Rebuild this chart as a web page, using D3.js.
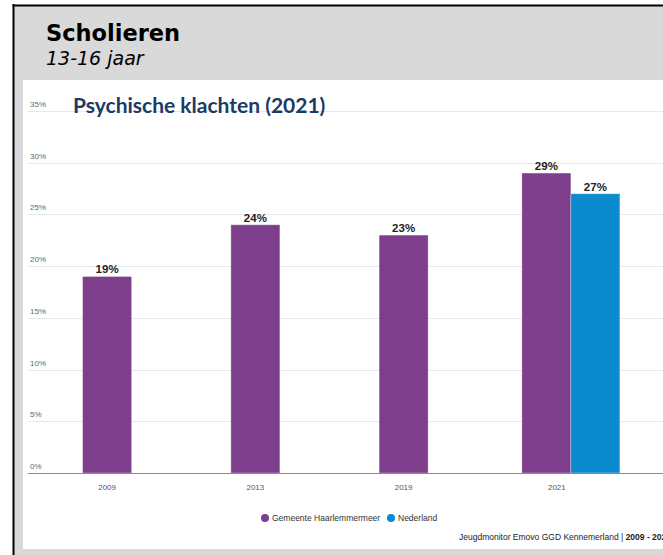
<!DOCTYPE html>
<html>
<head>
<meta charset="utf-8">
<script src="https://cdn.jsdelivr.net/npm/d3@7"></script>
<style>
  html, body { margin: 0; padding: 0; background: #fff; overflow: hidden; }
  svg { display: block; }
  .narrow { font-family: "Liberation Sans Narrow", "Arial Narrow", "Liberation Sans", sans-serif; font-stretch: condensed; }
</style>
</head>
<body>
<svg id="chart" width="663" height="555"></svg>
<script>
  "use strict";

  // data
  const years = ["2009", "2013", "2019", "2021"];
  const haarlemmermeer = [19, 24, 23, 29];
  const nederland = [null, null, null, 27];
  const seriesNames = ["Gemeente Haarlemmermeer", "Nederland"];
  const seriesColors = ["#7d3f8c", "#0a8acf"];
  const yTicks = [0, 5, 10, 15, 20, 25, 30, 35];

  const svg = d3.select("#chart");
  const W = 663, H = 555;

  // slide frame
  svg.append("rect").attr("x", 13).attr("y", 5).attr("width", W).attr("height", H)
    .attr("fill", "#d9d9d9");
  svg.append("line").attr("x1", 13.5).attr("x2", 13.5).attr("y1", 4).attr("y2", H)
    .attr("stroke", "#000").attr("stroke-width", 2);
  svg.append("line").attr("x1", 12.5).attr("x2", W).attr("y1", 5.5).attr("y2", 5.5)
    .attr("stroke", "#000").attr("stroke-width", 2);
  svg.append("rect").attr("x", 23).attr("y", 80).attr("width", W - 23).attr("height", 469)
    .attr("fill", "#fff");

  svg.append("text").attr("x", 46).attr("y", 41)
    .attr("font-family", "DejaVu Sans, Verdana, sans-serif").attr("font-weight", "bold")
    .attr("font-size", 22.5).attr("fill", "#000").text("Scholieren");
  svg.append("text").attr("x", 46).attr("y", 65)
    .attr("font-family", "DejaVu Sans, Verdana, sans-serif").attr("font-style", "italic")
    .attr("font-size", 19).attr("fill", "#000").text("13-16 jaar");

  // plot area
  const plot = { left: 28, right: W, top: 111, bottom: 473 };
  const y = d3.scaleLinear().domain([0, 35]).range([plot.bottom, plot.top]);
  const x = d3.scaleBand().domain(years).range([33, 626]).padding(0);
  const barW = 49;
  const groupShift = 19;

  const grid = svg.append("g");
  grid.selectAll("line").data(yTicks.filter((t) => t > 0)).enter().append("line")
    .attr("x1", plot.left).attr("x2", plot.right)
    .attr("y1", (d) => Math.round(y(d)) + 0.5).attr("y2", (d) => Math.round(y(d)) + 0.5)
    .attr("stroke", "#e8e8e8").attr("stroke-width", 1);

  svg.append("g").selectAll("text").data(yTicks).enter().append("text")
    .attr("class", "narrow")
    .attr("x", 30).attr("y", (d) => y(d) - 4)
    .attr("font-size", 8).attr("fill", "#666")
    .text((d) => d + "%");

  svg.append("text").attr("x", 73).attr("y", 113)
    .attr("font-family", "Lato, 'Open Sans', sans-serif").attr("font-weight", "bold")
    .attr("font-size", 21).attr("fill", "#1b3a66").text("Psychische klachten (2021)");

  // bars
  const rows = [];
  years.forEach((yr, i) => {
    const vals = [haarlemmermeer[i], nederland[i]];
    const present = vals.map((v, s) => ({ v, s })).filter((d) => d.v != null);
    const sub = d3.scaleBand().domain(present.map((d) => d.s))
      .range([-barW * present.length / 2, barW * present.length / 2]);
    const center = x(yr) + x.bandwidth() / 2 + (present.length - 1) * groupShift;
    present.forEach((d) => rows.push({ year: yr, value: d.v, s: d.s, x0: center + sub(d.s) }));
  });

  svg.append("g").selectAll("rect").data(rows).enter().append("rect")
    .attr("x", (d) => d.x0).attr("y", (d) => y(d.value))
    .attr("width", barW).attr("height", (d) => plot.bottom - y(d.value))
    .attr("fill", (d) => seriesColors[d.s])
    .attr("stroke", "#fff").attr("stroke-opacity", 0.4).attr("stroke-width", 0.8);

  svg.append("g").selectAll("text").data(rows).enter().append("text")
    .attr("class", "narrow")
    .attr("x", (d) => d.x0 + barW / 2).attr("y", (d) => y(d.value) - 3)
    .attr("text-anchor", "middle").attr("font-weight", "bold")
    .attr("font-size", 11.5).attr("fill", "#222")
    .text((d) => d.value + "%");

  // x axis
  svg.append("line").attr("x1", plot.left).attr("x2", plot.right)
    .attr("y1", plot.bottom + 0.5).attr("y2", plot.bottom + 0.5)
    .attr("stroke", "#8a8a8a").attr("stroke-width", 1.2);

  svg.append("g").selectAll("text").data(years).enter().append("text")
    .attr("class", "narrow")
    .attr("x", (d) => x(d) + x.bandwidth() / 2 + (d === "2021" ? 5 : 0))
    .attr("y", 490).attr("text-anchor", "middle")
    .attr("font-size", 8).attr("fill", "#555").text((d) => d);

  // legend
  const legend = svg.append("g").attr("class", "narrow").attr("font-size", 8.5).attr("fill", "#333");
  const legendX = [265, 391];
  seriesNames.forEach((name, i) => {
    legend.append("circle").attr("cx", legendX[i]).attr("cy", 518).attr("r", 4)
      .attr("fill", seriesColors[i]);
    legend.append("text").attr("x", legendX[i] + 7).attr("y", 521).text(name);
  });

  // source (cut off at the right edge, as on the slide)
  const src = svg.append("text").attr("class", "narrow").attr("x", 459).attr("y", 540)
    .attr("font-size", 8.5).attr("fill", "#222");
  src.append("tspan").text("Jeugdmonitor Emovo GGD Kennemerland | ");
  src.append("tspan").attr("font-weight", "bold").text("2009 - 2021");
</script>
</body>
</html>
